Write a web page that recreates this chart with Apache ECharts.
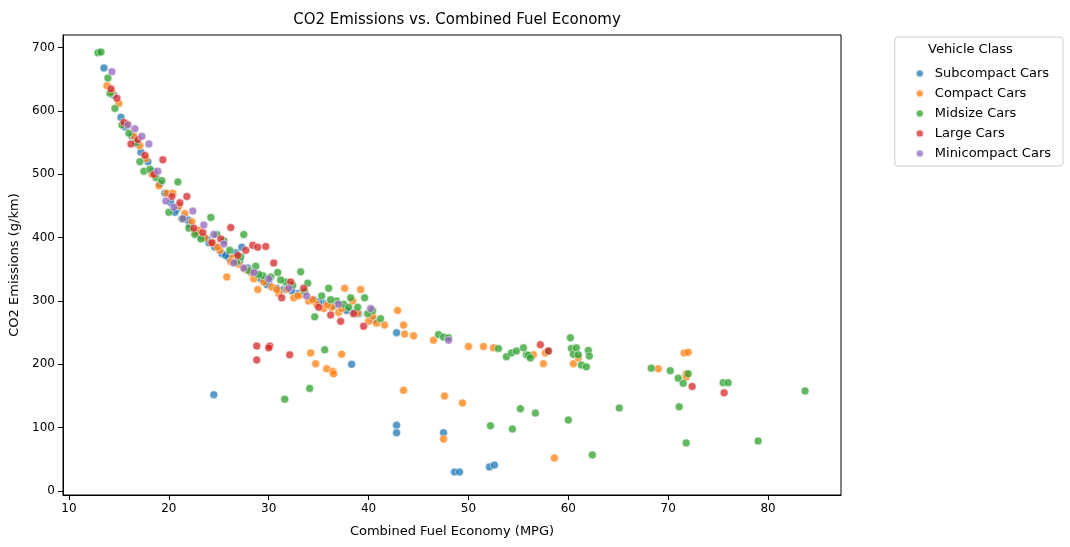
<!DOCTYPE html>
<html>
<head>
<meta charset="utf-8">
<script src="https://cdn.jsdelivr.net/npm/echarts@6/dist/echarts.min.js"></script>
</head>
<body style="margin:0">
<div id="main" style="width:1070px;height:547px"></div>
<script>
// values, [mpg, g/km]
var subcompact = [[13.5,668],[14.5,625],[15.2,590],[15.6,575],[16.3,560],[16.8,548],[17.2,535],[17.9,520],[18.4,505],[19.1,485],[19.6,470],[20.2,455],[20.8,445],[21.5,432],[22.1,420],[22.7,410],[23.3,402],[24.0,392],[24.6,385],[25.3,375],[26.0,368],[26.7,376],[27.3,385],[27.9,352],[28.6,345],[29.2,335],[30.0,330],[30.8,320],[31.5,318],[33.0,312],[34.5,302],[35.5,296],[36.5,292],[37.8,285],[39.0,280],[40.5,270],[42.8,250],[20.6,440],[21.9,428],[23.8,398],[25.7,372],[27.1,363],[29.8,326],[32.3,316],[35.0,298],[38.6,282],[24.5,152],[38.3,200],[42.8,104],[42.8,92],[47.5,92],[48.6,30],[49.1,30],[52.1,38],[52.6,41]];
var compact = [[13.8,640],[14.3,630],[15.0,612],[15.8,580],[16.5,560],[17.1,545],[17.7,525],[18.3,500],[19.0,482],[19.8,470],[20.4,470],[21.0,450],[21.6,438],[22.3,425],[23.0,412],[23.6,400],[24.4,392],[25.1,380],[25.8,338],[26.4,368],[27.0,358],[27.6,350],[28.2,345],[28.9,318],[29.5,330],[30.3,322],[31.0,312],[31.8,318],[32.5,305],[33.3,310],[34.0,300],[34.8,295],[35.5,288],[36.3,290],[37.0,282],[37.6,320],[38.4,300],[39.2,318],[40.0,268],[40.8,265],[41.6,262],[42.9,285],[43.5,262],[43.6,248],[44.5,245],[22.8,408],[24.9,385],[26.2,362],[28.5,335],[30.8,318],[32.9,308],[34.4,302],[35.9,294],[37.3,288],[38.9,281],[40.4,276],[46.5,238],[50.0,228],[51.5,228],[52.5,226],[56.5,215],[57.7,218],[34.2,218],[34.7,201],[35.8,193],[36.4,189],[36.5,185],[37.3,216],[43.5,159],[47.5,82],[47.6,150],[49.4,139],[58.6,52],[57.5,201],[60.5,201],[61.0,210],[69.0,193],[71.6,218],[72.0,219],[71.8,185],[71.8,180]];
var midsize = [[12.9,692],[13.2,693],[13.9,652],[14.1,628],[14.6,604],[15.3,578],[16.0,565],[16.7,550],[17.1,520],[17.5,505],[18.1,508],[18.7,495],[19.3,490],[20.0,440],[20.9,488],[21.3,430],[22.0,415],[22.6,405],[23.2,398],[24.2,432],[24.8,405],[25.5,395],[26.1,380],[26.8,362],[27.5,405],[28.0,348],[28.7,355],[29.4,340],[30.2,338],[30.9,345],[31.7,330],[32.4,325],[33.2,346],[33.9,328],[34.6,275],[35.3,308],[36.0,320],[36.8,300],[37.5,295],[38.2,305],[38.9,290],[39.6,305],[40.4,285],[41.2,272],[27.2,370],[29.0,342],[31.2,333],[33.6,315],[36.2,302],[38.0,290],[39.9,280],[47.0,247],[47.5,243],[48.0,242],[53.0,225],[53.8,212],[54.3,218],[54.8,221],[55.5,226],[55.8,215],[56.0,214],[56.2,210],[58.0,221],[60.2,242],[60.3,225],[60.5,216],[60.8,226],[61.0,215],[61.3,199],[61.8,196],[62.0,222],[62.1,213],[68.3,194],[70.2,190],[71.0,178],[71.5,170],[72.0,185],[75.5,171],[76.0,171],[31.6,145],[34.1,162],[35.6,223],[52.2,103],[54.4,98],[55.2,130],[56.7,123],[60.0,112],[65.1,131],[71.1,133],[71.8,76],[79.0,79],[83.7,158],[62.4,57]];
var large = [[14.2,635],[14.8,620],[15.5,582],[16.2,548],[16.9,555],[17.6,530],[18.5,500],[19.4,523],[20.3,465],[21.1,455],[21.8,465],[22.5,415],[23.4,408],[24.3,392],[25.2,398],[26.2,416],[26.9,372],[27.7,380],[28.4,388],[28.9,385],[29.7,386],[30.5,360],[31.3,305],[32.2,330],[33.5,320],[35.0,290],[36.2,278],[37.2,268],[38.5,280],[39.5,260],[28.8,229],[28.8,207],[30.1,229],[30.0,226],[32.1,215],[57.2,231],[58.0,221],[72.4,165],[75.6,155]];
var minicompact = [[14.3,662],[15.9,578],[16.6,572],[17.3,560],[18.0,548],[18.9,505],[19.7,458],[20.5,448],[21.4,430],[22.4,442],[23.5,420],[24.5,405],[25.5,390],[26.5,360],[27.5,352],[28.5,345],[30.0,335],[32.0,320],[33.8,308],[37.0,295],[40.2,288],[48.0,238]];

var names = ['Subcompact Cars','Compact Cars','Midsize Cars','Large Cars','Minicompact Cars'];
var sets = [subcompact, compact, midsize, large, minicompact];
var colors = ['#1f77b4','#ff7f0e','#2ca02c','#d62728','#9467bd'];
var ticksX = [10,20,30,40,50,60,70,80];
var ticksY = [0,100,200,300,400,500,600,700];

var myChart = echarts.init(document.getElementById('main'));
myChart.setOption({
    animation: false,
    color: colors,
    title: {text:'CO2 Emissions vs. Combined Fuel Economy', left:452, top:8, textAlign:'center',
        textStyle:{fontFamily:'DejaVu Sans', fontSize:15, fontWeight:'normal', color:'#000'}},
    legend: {
        orient:'vertical', right:7, top:37, itemWidth:8, itemHeight:8, itemGap:7,
        icon:'circle', borderColor:'#ccc', borderWidth:1, borderRadius:3, padding:[30,12,6,20],
        textStyle:{fontFamily:'DejaVu Sans', fontSize:13, color:'#000', padding:[0,0,0,6]},
        data: names
    },
    grid: {left:63, right:229, top:35, bottom:52},
    xAxis: {
        type:'value', min:9.4, max:87.3,
        name:'Combined Fuel Economy (MPG)', nameLocation:'middle', nameGap:30,
        nameTextStyle:{fontFamily:'DejaVu Sans', fontSize:13, color:'#000'},
        axisLine:{show:true, onZero:false, lineStyle:{color:'#000'}},
        axisTick:{show:true, customValues:ticksX, lineStyle:{color:'#000'}},
        axisLabel:{customValues:ticksX, fontFamily:'DejaVu Sans', fontSize:12, color:'#000'},
        splitLine:{show:false}
    },
    yAxis: {
        type:'value', min:-6.3, max:720,
        name:'CO2 Emissions (g/km)', nameLocation:'middle', nameGap:38,
        nameTextStyle:{fontFamily:'DejaVu Sans', fontSize:13, color:'#000'},
        axisLine:{show:true, onZero:false, lineStyle:{color:'#000'}},
        axisTick:{show:true, customValues:ticksY, lineStyle:{color:'#000'}},
        axisLabel:{customValues:ticksY, fontFamily:'DejaVu Sans', fontSize:12, color:'#000'},
        splitLine:{show:false}
    },
    graphic: [
        {type:'text', left:928, top:43, style:{text:'Vehicle Class', font:'13px DejaVu Sans', fill:'#000'}},
        {type:'rect', shape:{x:63, y:35, width:778, height:460}, style:{fill:'none', stroke:'#000', lineWidth:1}, silent:true}
    ],
    series: names.map(function (n, i) {
        return {
            name:n, type:'scatter', data:sets[i], symbolSize:8,
            itemStyle:{color:colors[i], opacity:0.75, borderColor:'#fff', borderWidth:0.7}
        };
    })
});
</script>
</body>
</html>
